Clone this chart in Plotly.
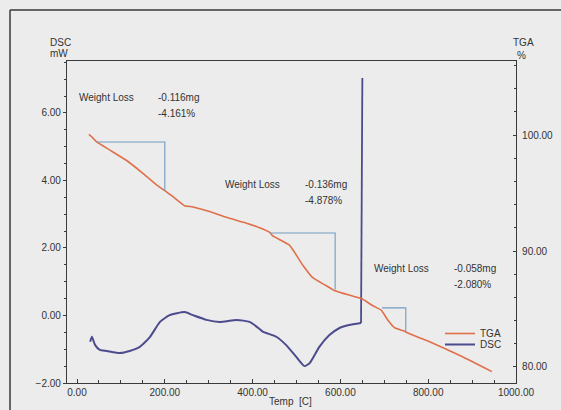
import plotly.graph_objects as go

# ---- data ----
tga_temp = [27, 36, 45, 75, 113, 150, 181, 200, 218, 245, 264, 302, 340, 386, 416, 439, 446,
            484, 514, 537, 568, 586, 620, 648, 673, 693, 707, 723, 745, 750, 795, 802, 877, 945]
tga_pct = [100.05, 99.75, 99.4, 98.7, 97.8, 96.7, 95.7, 95.2, 94.7, 93.9, 93.8, 93.4, 92.9, 92.4, 92.0, 91.6, 91.3,
           90.5, 88.8, 87.7, 87.0, 86.6, 86.2, 85.9, 85.3, 84.9, 84.1, 83.4, 83.1, 83.0, 82.3, 82.2, 80.9, 79.6]

dsc_temp = [30, 34, 41, 52, 68, 98, 120, 143, 166, 189, 211, 245, 264, 295, 325, 364, 393, 416,
            423, 454, 476, 499, 518, 530, 552, 575, 598, 620, 647, 650]
dsc_mw = [-0.78, -0.63, -0.87, -1.02, -1.05, -1.11, -1.05, -0.93, -0.64, -0.19, 0.01, 0.10, 0.01, -0.13,
          -0.19, -0.13, -0.19, -0.40, -0.48, -0.63, -0.87, -1.22, -1.50, -1.41, -0.93, -0.58, -0.37, -0.28,
          -0.22, 7.04]

step_start = [45, 440, 695]
step_end = [200, 588, 749]
step_upper = [99.4, 91.55, 85.1]
step_lower = [95.24, 86.67, 83.02]
step_mg = ["-0.116mg", "-0.136mg", "-0.058mg"]
step_pct = ["-4.161%", "-4.878%", "-2.080%"]

x_ticks = [0, 200, 400, 600, 800, 1000]
dsc_ticks = [-2, 0, 2, 4, 6]
tga_ticks = [80, 90, 100]

# ---- layout geometry (pixels) ----
W, H = 561, 410
L, R, T, B = 67, 516, 61, 383
PW, PH = R - L, B - T


def px(x):
    return (x - L) / PW


def py(y):
    return (B - y) / PH


FONT = "Liberation Sans, Arial, sans-serif"
TXT = "#333333"
TGA_C = "#e0704a"
DSC_C = "#4b4b8e"
AX_C = "#3a3a3a"

fig = go.Figure()

fig.add_trace(go.Scatter(x=tga_temp, y=tga_pct, mode="lines", name="TGA", yaxis="y2", legend="legend",
                         line=dict(color=TGA_C, width=1.6, shape="spline", smoothing=0.4)))
# DSC: smooth curve up to the spike, then the near-vertical spike drawn straight
fig.add_trace(go.Scatter(x=dsc_temp[:-1], y=dsc_mw[:-1], mode="lines", name="DSC", yaxis="y",
                         legend="legend2", legendgroup="dsc",
                         line=dict(color=DSC_C, width=2, shape="spline", smoothing=0.5)))
fig.add_trace(go.Scatter(x=dsc_temp[-2:], y=dsc_mw[-2:], mode="lines", name="DSC", yaxis="y",
                         showlegend=False, legendgroup="dsc",
                         line=dict(color=DSC_C, width=1.8)))

bx, by = [], []
for s, e, u, lo in zip(step_start, step_end, step_upper, step_lower):
    bx += [s, e, e, None]
    by += [u, u, lo, None]
fig.add_trace(go.Scatter(x=bx, y=by, mode="lines", yaxis="y2", showlegend=False,
                         line=dict(color="#6f9cc2", width=1.1)))

# weight loss labels (pixel positions of label blocks)
label_pos = [(77, 97, 156), (223, 184, 303), (372, 268, 452)]
ann = []
for (lx, ly, vx), mg, pc in zip(label_pos, step_mg, step_pct):
    ann.append(dict(x=px(lx), y=py(ly), xref="paper", yref="paper", text="Weight Loss",
                    showarrow=False, xanchor="left", yanchor="middle"))
    ann.append(dict(x=px(vx), y=py(ly), xref="paper", yref="paper", text=mg,
                    showarrow=False, xanchor="left", yanchor="middle"))
    ann.append(dict(x=px(vx), y=py(ly + 16), xref="paper", yref="paper", text=pc,
                    showarrow=False, xanchor="left", yanchor="middle"))

ann += [
    dict(x=px(48), y=py(42), xref="paper", yref="paper", text="DSC", showarrow=False,
         xanchor="left", yanchor="middle"),
    dict(x=px(48), y=py(54), xref="paper", yref="paper", text="mW", showarrow=False,
         xanchor="left", yanchor="middle"),
    dict(x=px(523), y=py(42), xref="paper", yref="paper", text="TGA", showarrow=False,
         xanchor="center", yanchor="middle"),
    dict(x=px(521), y=py(55), xref="paper", yref="paper", text="%", showarrow=False,
         xanchor="center", yanchor="middle"),
    dict(x=px(290), y=py(401), xref="paper", yref="paper", text="Temp\u00a0\u00a0[C]", showarrow=False,
         xanchor="center", yanchor="middle"),
]

axis_common = dict(showline=True, linecolor=AX_C, linewidth=1.2, showgrid=False, zeroline=False,
                   tickfont=dict(size=10, color=TXT, family=FONT), tickcolor=AX_C, tickwidth=1,
                   tickformat=".2f")

legend_common = dict(xanchor="left", yanchor="top", bgcolor="rgba(0,0,0,0)",
                     font=dict(size=10, color=TXT, family=FONT), itemwidth=30)

fig.update_layout(
    width=W, height=H,
    margin=dict(l=L, r=W - R, t=T, b=H - B, pad=0, autoexpand=False),
    paper_bgcolor="#ececec", plot_bgcolor="#ececec",
    font=dict(family=FONT, size=10, color=TXT),
    xaxis=dict(range=[-22.8, 1000], tickvals=x_ticks, ticks="inside", ticklen=4, mirror=True,
               minor=dict(dtick=50, ticks="inside", ticklen=3, tickcolor=AX_C), **axis_common),
    yaxis=dict(range=[-2.0, 7.54], tickvals=dsc_ticks, ticks="outside", ticklen=3, mirror=True,
               minor=dict(dtick=0.5, ticks="outside", ticklen=2, tickcolor=AX_C), **axis_common),
    yaxis2=dict(range=[78.62, 106.38], tickvals=tga_ticks, ticks="inside", ticklen=3, side="right",
                overlaying="y", ticklabelstandoff=3,
                minor=dict(dtick=2, ticks="inside", ticklen=2, tickcolor=AX_C),
                **axis_common),
    legend=dict(x=px(440), y=py(319), **legend_common),
    legend2=dict(x=px(440), y=py(330), **legend_common),
    annotations=ann,
    shapes=[
        dict(type="line", xref="paper", yref="paper", x0=px(10), x1=px(10), y0=py(10), y1=py(415),
             line=dict(color=AX_C, width=1.5)),
        dict(type="line", xref="paper", yref="paper", x0=px(10), x1=px(561), y0=py(10), y1=py(10),
             line=dict(color=AX_C, width=1.5)),
    ],
)

fig.write_html("out.html",
               config={"displayModeBar": False},
               post_script="document.body.style.margin='0';document.body.style.padding='0';"
                           "document.documentElement.style.overflow='hidden';"
                           "document.body.style.overflow='hidden';")
